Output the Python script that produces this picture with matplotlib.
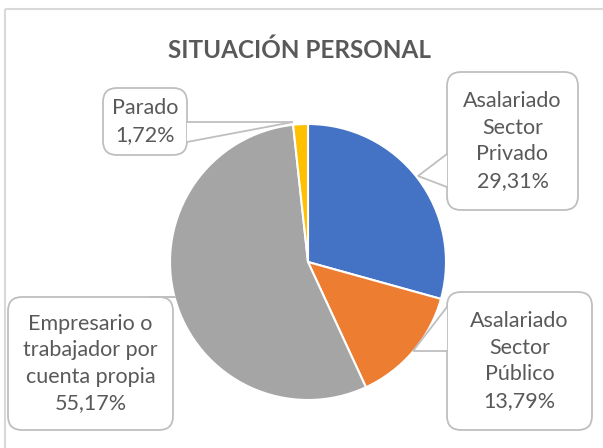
import matplotlib.pyplot as plt
from matplotlib.patches import FancyBboxPatch, Polygon, Rectangle

# Datos
categorias = ['Asalariado\nSector\nPrivado', 'Asalariado\nSector\nPúblico',
              'Empresario o\ntrabajador por\ncuenta propia', 'Parado']
valores = [29.31, 13.79, 55.17, 1.72]
colores = ['#4472C4', '#ED7D31', '#A5A5A5', '#FFC000']

W, H = 603, 448
fig = plt.figure(figsize=(W / 100, H / 100), dpi=100)

# capa de fondo en pixeles (y hacia abajo)
bg = fig.add_axes([0, 0, 1, 1])
bg.set_xlim(0, W)
bg.set_ylim(H, 0)
bg.axis('off')
bg.add_patch(Rectangle((5, 9), W, H, fill=False, edgecolor='#D9D9D9', lw=1.5))

bg.text(299, 50, 'SITUACIÓN PERSONAL', ha='center', va='center',
        fontsize=17.5, fontweight='bold', color='#595959', family='Lato')

# pastel
cx, cy, r = 308, 262, 138
ax = fig.add_axes([(cx - r) / W, (H - cy - r) / H, 2 * r / W, 2 * r / H])
ax.pie(valores, colors=colores, startangle=90, counterclock=False,
       wedgeprops=dict(edgecolor='white', linewidth=1.5))
ax.set_aspect('auto')
ax.set_xlim(-1, 1)
ax.set_ylim(-1, 1)

ov = fig.add_axes([0, 0, 1, 1])
ov.set_xlim(0, W)
ov.set_ylim(H, 0)
ov.axis('off')

borde = '#BFBFBF'


def callout(x0, y0, x1, y1, punta, base1, base2, texto, fs=15.5):
    caja = FancyBboxPatch((x0, y0), x1 - x0, y1 - y0,
                          boxstyle='round,pad=0,rounding_size=14',
                          facecolor='white', edgecolor=borde, lw=1.3)
    ov.add_patch(caja)
    ov.add_patch(Polygon([punta, base1, base2], closed=True,
                         facecolor='white', edgecolor='none', zorder=3))
    ov.plot([base1[0], punta[0], base2[0]], [base1[1], punta[1], base2[1]],
            color=borde, lw=1.3, zorder=4, solid_joinstyle='miter')
    ov.text((x0 + x1) / 2, (y0 + y1) / 2, texto, ha='center', va='center',
            fontsize=fs, color='#595959', family='Lato', linespacing=1.4,
            zorder=5)


def etiqueta(i):
    return categorias[i] + '\n' + f'{valores[i]:.2f}'.replace('.', ',') + '%'


callout(447, 72, 578, 210, (418, 176), (447, 154), (447, 187), etiqueta(0))
callout(447, 292, 592, 430, (413, 351), (447, 307), (447, 351), etiqueta(1))
callout(8, 297, 173, 430, (176, 297), (150, 297), (160, 297), etiqueta(2))
callout(103, 88, 187, 155, (293, 122), (187, 122), (187, 142), etiqueta(3))

fig.savefig('out.png', dpi=100)
